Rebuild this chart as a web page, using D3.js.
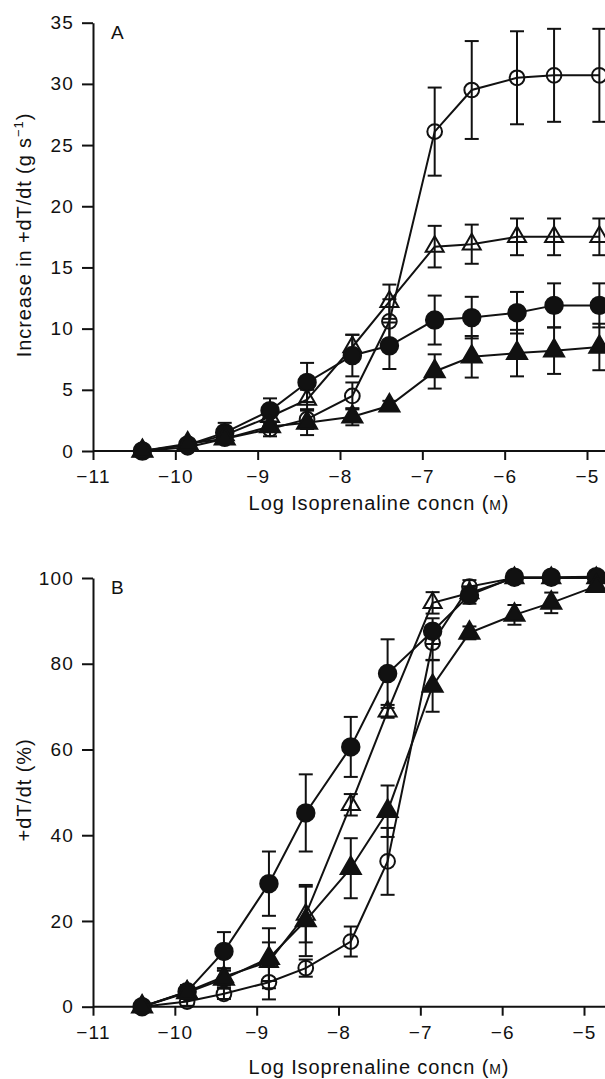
<!DOCTYPE html>
<html>
<head>
<meta charset="utf-8">
<script src="https://cdn.jsdelivr.net/npm/d3@7"></script>
<style>
  body { margin: 0; background: #fff; }
  svg { display: block; }
  text { font-family: "Liberation Sans", Arial, sans-serif; fill: #111; }
</style>
</head>
<body>
<div id="chart"></div>
<script>
// log isoprenaline concentration (M) at each dose
const logConc = [-10.4, -9.85, -9.4, -8.85, -8.4, -7.85, -7.4, -6.85, -6.4, -5.85, -5.4, -4.85];

// Panel A: increase in +dT/dt (g s-1), mean and s.e.mean
const aOpenCircle       = [0, 0.3, 1.0, 1.8, 2.6, 4.5, 10.6, 26.1, 29.5, 30.5, 30.7, 30.7];
const aOpenCircleErr    = [0.1, 0.2, 0.3, 0.6, 0.8, 1.1, 1.8, 3.6, 4.0, 3.8, 3.8, 3.8];
const aOpenTriangle     = [0, 0.5, 1.3, 2.8, 4.2, 8.5, 12.2, 16.7, 16.9, 17.5, 17.5, 17.5];
const aOpenTriangleErr  = [0.1, 0.3, 0.5, 0.8, 0.8, 1.0, 1.4, 1.7, 1.6, 1.5, 1.5, 1.5];
const aFilledCircle     = [0, 0.5, 1.5, 3.3, 5.6, 7.8, 8.6, 10.7, 10.9, 11.3, 11.9, 11.9];
const aFilledCircleErr  = [0.1, 0.3, 0.8, 1.0, 1.6, 1.7, 1.9, 2.0, 1.7, 1.7, 1.8, 1.8];
const aFilledTriangle   = [0, 0.6, 1.0, 2.0, 2.3, 2.8, 3.7, 6.5, 7.7, 8.0, 8.2, 8.5];
const aFilledTriangleErr= [0.1, 0.3, 0.3, 0.4, 1.0, 0.7, 0.4, 1.4, 1.7, 1.9, 1.9, 1.9];

// Panel B: +dT/dt as % of maximum, mean and s.e.mean
const bOpenCircle       = [0, 1.2, 3.0, 5.7, 9.0, 15.2, 33.9, 84.9, 98.0, 100, 100, 100];
const bOpenCircleErr    = [0.5, 1.0, 1.2, 4.0, 2.0, 3.5, 7.8, 4.0, 1.5, 0.5, 0.5, 0.5];
const bOpenTriangle     = [0, 3.5, 7.0, 10.5, 21.5, 47.1, 68.9, 94.2, 96.5, 100, 100, 100];
const bOpenTriangleErr  = [0.5, 1.5, 2.0, 4.5, 6.5, 2.5, 1.5, 2.5, 1.5, 0.5, 0.5, 0.5];
const bFilledCircle     = [0, 3.5, 12.9, 28.7, 45.2, 60.6, 77.7, 87.6, 96.0, 100.2, 100.2, 100.3];
const bFilledCircleErr  = [0.5, 1.5, 4.5, 7.5, 9.0, 7.0, 8.0, 3.0, 2.0, 0.5, 0.5, 0.5];
const bFilledTriangle   = [0, 3.3, 6.5, 11.3, 20.1, 32.3, 45.6, 74.8, 87.2, 91.4, 94.2, 98.1];
const bFilledTriangleErr= [0.5, 1.5, 2.0, 7.0, 8.3, 7.0, 6.0, 6.0, 1.5, 2.3, 2.4, 1.0];

// tick labels
const xTicks = [-11, -10, -9, -8, -7, -6, -5];
const aYTicks = [0, 5, 10, 15, 20, 25, 30, 35];
const bYTicks = [0, 20, 40, 60, 80, 100];

const width = 605;
const height = 1079;

const svg = d3.select('#chart')
  .append('svg')
  .attr('width', width)
  .attr('height', height);

const minus = s => String(s).replace('-', '\u2212');

// draw one panel
function drawPanel(opt) {
  const g = svg.append('g');
  const x = d3.scaleLinear().domain(opt.xDomain).range(opt.xRange);
  const y = d3.scaleLinear().domain(opt.yDomain).range(opt.yRange);

  // x axis
  const xAxis = g.append('g')
    .attr('class', 'x-axis')
    .attr('transform', `translate(0,${opt.yRange[0]})`)
    .call(d3.axisBottom(x).tickValues(xTicks).tickFormat(minus)
      .tickSize(9).tickSizeOuter(0).tickPadding(opt.xPad));
  // y axis
  const yAxis = g.append('g')
    .attr('transform', `translate(${opt.xRange[0]},0)`)
    .call(d3.axisLeft(y).tickValues(opt.yTicks)
      .tickSize(11).tickSizeOuter(0).tickPadding(8));

  [xAxis, yAxis].forEach(a => {
    a.select('.domain').attr('stroke', '#111').attr('stroke-width', 2);
    a.selectAll('.tick line').attr('stroke', '#111').attr('stroke-width', 2);
    a.selectAll('.tick text')
      .style('font-size', '19px')
      .style('letter-spacing', '1.2px')
      .attr('fill', '#111');
  });

  // extend the x axis line to the right edge
  xAxis.select('.domain').attr('d', `M${opt.xRange[0]},0H${width}`);

  // series: lines first, then error bars, then markers
  const line = d3.line().x((d, i) => x(logConc[i])).y(d => y(d));
  opt.series.forEach(s => {
    g.append('path')
      .attr('d', line(s.values))
      .attr('fill', 'none')
      .attr('stroke', '#111')
      .attr('stroke-width', 2);
  });

  opt.series.forEach(s => {
    const pts = s.values.map((v, i) => ({ x: logConc[i], v, e: s.err[i] }));
    const eb = g.append('g').attr('stroke', '#111').attr('stroke-width', 2);
    pts.filter(p => p.e > 0.6 * (opt.yDomain[1] / 100)).forEach(p => {
      const cx = x(p.x), y0 = y(p.v - p.e), y1 = y(p.v + p.e);
      eb.append('line').attr('x1', cx).attr('x2', cx).attr('y1', y0).attr('y2', y1);
      eb.append('line').attr('x1', cx - 7).attr('x2', cx + 7).attr('y1', y0).attr('y2', y0);
      eb.append('line').attr('x1', cx - 7).attr('x2', cx + 7).attr('y1', y1).attr('y2', y1);
    });
  });

  opt.series.forEach(s => {
    const sym = d3.symbol()
      .type(s.shape === 'circle' ? d3.symbolCircle : d3.symbolTriangle)
      .size(s.shape === 'circle' ? (s.filled ? 240 : 170) : (s.filled ? 175 : 140));
    g.append('g').selectAll('path')
      .data(s.values)
      .join('path')
      .attr('d', sym)
      .attr('transform', (d, i) => `translate(${x(logConc[i])},${y(d)})`)
      .attr('fill', s.filled ? '#111' : 'none')
      .attr('stroke', '#111')
      .attr('stroke-width', 2);
  });

  // panel letter
  g.append('text')
    .attr('x', opt.xRange[0] + 18)
    .attr('y', opt.yRange[1] + 16)
    .style('font-size', '19px')
    .text(opt.letter);

  // x axis title
  const xt = g.append('text')
    .attr('x', 379)
    .attr('y', opt.xTitleY)
    .attr('text-anchor', 'middle')
    .style('font-size', '20px')
    .style('letter-spacing', '0.9px');
  xt.append('tspan').text('Log Isoprenaline concn (');
  xt.append('tspan').style('font-size', '14px').text('M');
  xt.append('tspan').text(')');

  // y axis title
  const yt = g.append('text')
    .attr('transform', `translate(31,${opt.yTitleY}) rotate(-90)`)
    .attr('text-anchor', 'middle')
    .style('font-size', '20px')
    .style('letter-spacing', '0.9px');
  opt.yTitle(yt);
}

drawPanel({
  letter: 'A',
  xDomain: [-11, -5], xRange: [93, 587],
  yDomain: [0, 35], yRange: [451, 22.7],
  yTicks: aYTicks, xPad: 10, xTitleY: 510, yTitleY: 235,
  yTitle: t => {
    t.append('tspan').text('Increase in +dT/dt (g s');
    t.append('tspan').attr('dy', -8).style('font-size', '13px').text('\u22121');
    t.append('tspan').attr('dy', 8).text(')');
  },
  series: [
    { values: aOpenCircle, err: aOpenCircleErr, shape: 'circle', filled: false },
    { values: aOpenTriangle, err: aOpenTriangleErr, shape: 'triangle', filled: false },
    { values: aFilledCircle, err: aFilledCircleErr, shape: 'circle', filled: true },
    { values: aFilledTriangle, err: aFilledTriangleErr, shape: 'triangle', filled: true }
  ]
});

drawPanel({
  letter: 'B',
  xDomain: [-11, -5], xRange: [93, 584],
  yDomain: [0, 100], yRange: [1006.7, 578],
  yTicks: bYTicks, xPad: 10, xTitleY: 1074, yTitleY: 790,
  yTitle: t => t.text('+dT/dt (%)'),
  series: [
    { values: bOpenCircle, err: bOpenCircleErr, shape: 'circle', filled: false },
    { values: bOpenTriangle, err: bOpenTriangleErr, shape: 'triangle', filled: false },
    { values: bFilledCircle, err: bFilledCircleErr, shape: 'circle', filled: true },
    { values: bFilledTriangle, err: bFilledTriangleErr, shape: 'triangle', filled: true }
  ]
});
</script>
</body>
</html>
